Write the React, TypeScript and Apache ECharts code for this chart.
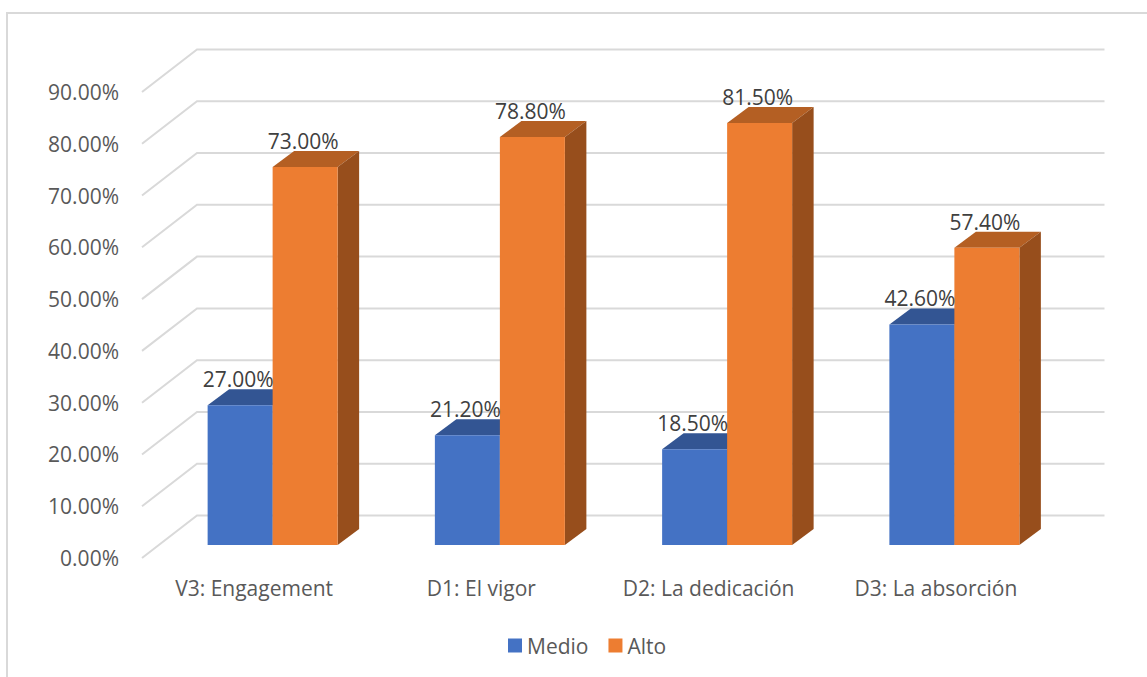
import React, { useEffect, useRef } from "react";
import * as echarts from "echarts";

const categories = ["V3: Engagement", "D1: El vigor", "D2: La dedicación", "D3: La absorción"];
const medio = [27.0, 21.2, 18.5, 42.6];
const alto = [73.0, 78.8, 81.5, 57.4];
const ticks = [0, 10, 20, 30, 40, 50, 60, 70, 80, 90];

const FONT = '"Open Sans", "Noto Sans", sans-serif';
const BAR_W = 65;
// Bars stand at mid-depth of the floor; the back wall is at full depth.
const MID_X = 17, MID_Y = 13;
const BACK_X = 55, BACK_Y = 42.5;
const DEPTH_X = 21.5, DEPTH_Y = 16;

const barRenderer = (front: string, top: string, side: string, dir: number) => (_p: any, api: any) => {
  const cat = api.value(0);
  const val = api.value(1);
  const [cx, yTop0] = api.coord([cat, val]);
  const [, yBase0] = api.coord([cat, 0]);
  const x0 = cx + MID_X + (dir < 0 ? -BAR_W : 0);
  const x1 = x0 + BAR_W;
  const yT = yTop0 - MID_Y;
  const yB = yBase0 - MID_Y;
  return {
    type: "group",
    children: [
      { type: "polygon", shape: { points: [[x0, yT], [x0 + DEPTH_X, yT - DEPTH_Y], [x1 + DEPTH_X, yT - DEPTH_Y], [x1, yT]] }, style: { fill: top } },
      { type: "polygon", shape: { points: [[x1, yT], [x1 + DEPTH_X, yT - DEPTH_Y], [x1 + DEPTH_X, yB - DEPTH_Y], [x1, yB]] }, style: { fill: side } },
      { type: "rect", shape: { x: x0, y: yT, width: BAR_W, height: yB - yT }, style: { fill: front } },
    ],
  };
};

const labelRenderer = (dir: number) => (_p: any, api: any) => {
  const cat = api.value(0);
  const val = api.value(1);
  const [cx, yTop0] = api.coord([cat, val]);
  return {
    type: "text",
    z2: 100,
    style: {
      text: val.toFixed(2) + "%",
      x: cx + MID_X - 2 + (dir * BAR_W) / 2,
      y: yTop0 - MID_Y - 26,
      align: "center",
      verticalAlign: "middle",
      fill: "#404040",
      font: `21px ${FONT}`,
    },
  };
};

const gridRenderer = (params: any, api: any) => {
  const left = params.coordSys.x;
  const right = left + params.coordSys.width;
  const [, y] = api.coord([0, api.value(0)]);
  return {
    type: "polyline",
    shape: { points: [[left, y], [left + BACK_X, y - BACK_Y], [right + BACK_X - 1.5, y - BACK_Y]] },
    style: { stroke: "#d9d9d9", lineWidth: 2, fill: "none" },
  };
};

export default function App() {
  const ref = useRef<HTMLDivElement>(null);
  useEffect(() => {
    const chart = echarts.init(ref.current!, null, { renderer: "svg" });
    const indexed = (a: number[]) => a.map((v, i) => [i, v]);
    chart.setOption({
      animation: false,
      backgroundColor: "#ffffff",
      textStyle: { fontFamily: FONT },
      grid: { left: 142, top: 92, width: 909, height: 466, containLabel: false },
      xAxis: {
        type: "category",
        data: categories,
        axisLine: { show: false },
        axisTick: { show: false },
        axisLabel: { color: "#595959", fontSize: 21, fontFamily: FONT, margin: 19, interval: 0, padding: [0, 3, 0, 0] },
      },
      yAxis: {
        type: "value",
        min: 0,
        max: 90,
        interval: 10,
        axisLine: { show: false },
        axisTick: { show: false },
        splitLine: { show: false },
        axisLabel: { color: "#595959", fontSize: 21, fontFamily: FONT, margin: 23, verticalAlign: "middle", lineHeight: 25, padding: [6, 0, 0, 0], formatter: (v: number) => v.toFixed(2) + "%" },
      },
      legend: {
        data: ["Medio", "Alto"],
        left: 503,
        top: 630,
        itemWidth: 14,
        itemHeight: 14,
        itemGap: 20,
        icon: "rect",
        textStyle: { color: "#595959", fontSize: 21, fontFamily: FONT },
      },
      graphic: [
        {
          type: "polyline",
          silent: true,
          shape: { points: [[7, 677], [7, 13], [1147, 13]] },
          style: { stroke: "#d9d9d9", lineWidth: 2, fill: "none" },
        },
      ],
      series: [
        { type: "custom", name: "grid", silent: true, z: 1, clip: false, data: ticks.map((t) => [t]), encode: { y: 0 }, renderItem: gridRenderer },
        { type: "custom", name: "Medio", z: 2, clip: false, itemStyle: { color: "#4472C4" }, data: indexed(medio), encode: { x: 0, y: 1 }, renderItem: barRenderer("#4472C4", "#335593", "#2b4a82", -1) },
        { type: "custom", name: "Alto", z: 3, clip: false, itemStyle: { color: "#ED7D31" }, data: indexed(alto), encode: { x: 0, y: 1 }, renderItem: barRenderer("#ED7D31", "#B45F23", "#974E1C", 1) },
        { type: "custom", name: "labelsMedio", z: 4, silent: true, clip: false, data: indexed(medio), encode: { x: 0, y: 1 }, renderItem: labelRenderer(-1) },
        { type: "custom", name: "labelsAlto", z: 4, silent: true, clip: false, data: indexed(alto), encode: { x: 0, y: 1 }, renderItem: labelRenderer(1) },
      ],
    });
    return () => chart.dispose();
  }, []);
  return <div ref={ref} style={{ position: "fixed", left: 0, top: 0, width: 1147, height: 677 }} />;
}
